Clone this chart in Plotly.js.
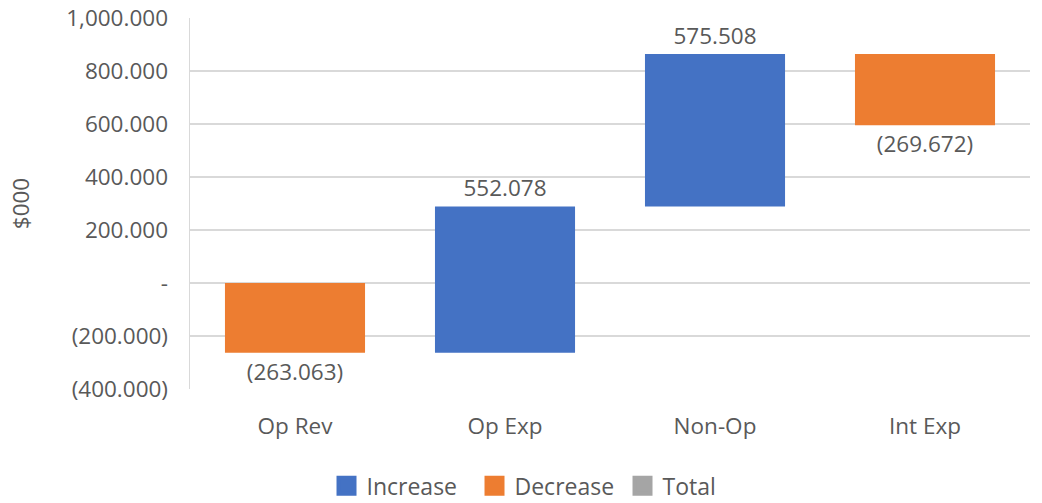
<!DOCTYPE html>
<html>
<head>
<meta charset="utf-8">
<script src="https://cdn.plot.ly/plotly-3.0.1.min.js"></script>
<style>html,body{margin:0;padding:0;background:#fff;}#chart{width:1042px;height:503px;}</style>
</head>
<body>
<div id="chart"></div>
<script>
// Step categories and their changes ($000)
const categories = ["Op Rev", "Op Exp", "Non-Op", "Int Exp"];
const changes = [-263.063, 552.078, 575.508, -269.672];
const tickVals = [-400, -200, 0, 200, 400, 600, 800, 1000];
const tickText = ["(400.000)", "(200.000)", "-", "200.000", "400.000", "600.000", "800.000", "1,000.000"];
const legendNames = ["Increase", "Decrease", "Total"];

const colors = { inc: "#4472C4", dec: "#ED7D31", tot: "#A5A5A5" };
const textColor = "#595959";
const FONT = "'Open Sans', 'Noto Sans', sans-serif";
const FS = 22.5;

function fmt(v) {
  const s = Math.abs(v).toLocaleString("en-US", { minimumFractionDigits: 3, maximumFractionDigits: 3 });
  return v < 0 ? "(" + s + ")" : s;
}

// Running totals give each floating bar its base
const bases = [];
let run = 0;
changes.forEach(v => { bases.push(run); run += v; });

function stepTrace(pick, color) {
  const x = [], y = [], base = [], text = [];
  changes.forEach((v, i) => {
    if (pick(v)) { x.push(categories[i]); y.push(v); base.push(bases[i]); text.push(fmt(v)); }
  });
  return {
    type: "bar", x, y, base, text,
    textposition: "outside", cliponaxis: false,
    textfont: { family: FONT, size: FS, color: textColor },
    marker: { color }, showlegend: false, hoverinfo: "skip"
  };
}

const traces = [
  stepTrace(v => v >= 0, colors.inc),
  stepTrace(v => v < 0, colors.dec)
];
// Legend entries
[colors.inc, colors.dec, colors.tot].forEach((c, i) => {
  traces.push({
    type: "scatter", mode: "markers", x: [null], y: [null],
    name: legendNames[i],
    marker: { symbol: "square", size: 16, color: c, line: { color: c, width: 4 } },
    hoverinfo: "skip"
  });
});

const layout = {
  width: 1042, height: 503,
  margin: { l: 190, r: 12, t: 18, b: 114 },
  paper_bgcolor: "#fff", plot_bgcolor: "#fff",
  font: { family: FONT, color: textColor, size: FS },
  barmode: "overlay", bargap: 0.333,
  showlegend: true,
  legend: {
    orientation: "h", x: 0.5264, xanchor: "center", xref: "container",
    y: 0.034, yanchor: "middle", yref: "container",
    font: { family: FONT, size: 23, color: textColor },
    itemsizing: "trace", traceorder: "normal",
    entrywidth: 103, entrywidthmode: "pixels"
  },
  xaxis: {
    type: "category", categoryorder: "array", categoryarray: categories,
    showgrid: false, showline: false, zeroline: false, ticks: "",
    ticklabelstandoff: 21,
    tickfont: { family: FONT, size: FS, color: textColor }
  },
  yaxis: {
    range: [-400, 1000], tickmode: "array", tickvals: tickVals, ticktext: tickText,
    showgrid: true, gridcolor: "#D9D9D9", gridwidth: 1.5,
    showline: true, linecolor: "#D9D9D9", linewidth: 1.5,
    zeroline: false, ticks: "", ticklabelstandoff: 16,
    tickfont: { family: FONT, size: FS, color: textColor },
    title: { text: "$000", standoff: 30, font: { family: FONT, size: FS, color: textColor } }
  }
};

Plotly.newPlot("chart", traces, layout, { displayModeBar: false, staticPlot: true });
</script>
</body>
</html>
